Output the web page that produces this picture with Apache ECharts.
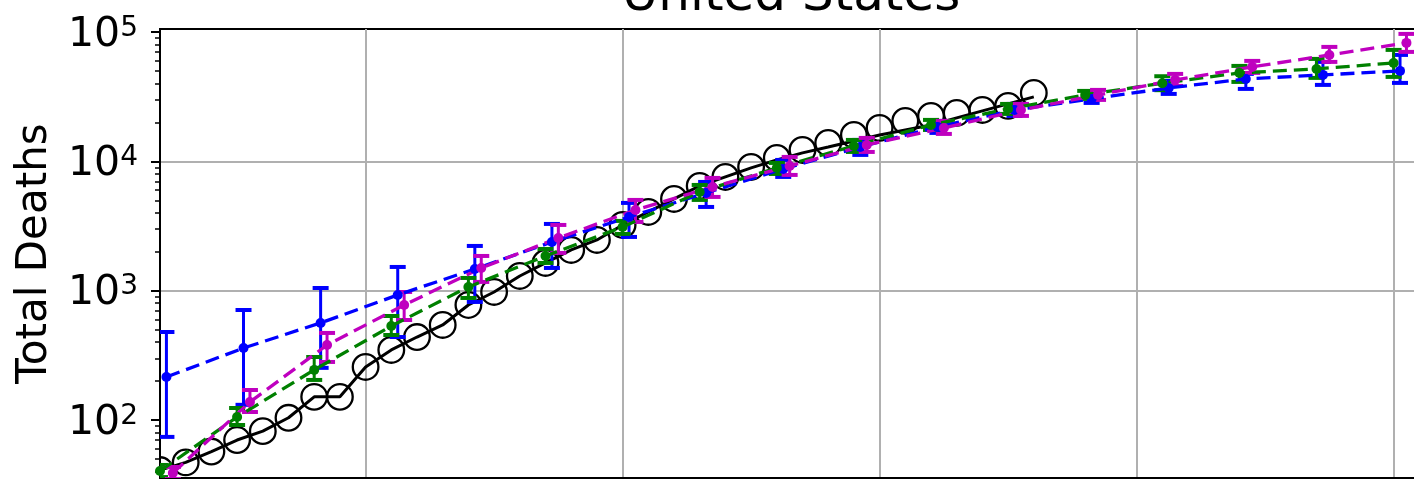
<!DOCTYPE html>
<html>
<head>
<meta charset="utf-8">
<script src="https://cdn.jsdelivr.net/npm/echarts@6/dist/echarts.min.js"></script>
<style>
  html, body { margin: 0; padding: 0; background: #ffffff; }
  #chart { width: 1414px; height: 479px; }
</style>
</head>
<body>
<div id="chart"></div>
<script>
// ---- Observed totals (one point per day) ----
const observedDays = [2, 3, 4, 5, 6, 7, 8, 9, 10, 11, 12, 13, 14, 15, 16, 17, 18, 19,
  20, 21, 22, 23, 24, 25, 26, 27, 28, 29, 30, 31, 32, 33, 34, 35, 36];
const observedDeaths = [41, 47, 57, 70, 82, 104, 151, 151, 257, 348, 438, 543, 775, 977,
  1299, 1638, 2064, 2467, 3222, 4061, 5120, 6451, 7573, 9050, 10625, 12250, 13880, 16000,
  18130, 20540, 22450, 23680, 24970, 26830, 33810];
const trendDeaths = [41, 47, 57, 70, 82, 104, 151, 151, 257, 348, 438, 543, 775, 977,
  1299, 1638, 2064, 2467, 3222, 4061, 5120, 6451, 7573, 8890, 10260, 11620, 12920, 14380,
  16000, 17490, 19110, 21660, 24550, 27800, 31500];

// ---- Model projections (every third day) with error ranges ----
const projectionDays = [2, 5, 8, 11, 14, 17, 20, 23, 26, 29, 32, 35, 38, 41, 44, 47, 50];

const blueMid  = [215, 360, 563, 926, 1471, 2380, 3715, 5696, 8735, 12920, 18460, 24970, 30380, 36960, 43380, 46590, 50030];
const blueLow  = [74, 131, 253, 438, 818, 1498, 2602, 4439, 7575, 11210, 16590, 22450, 28290, 33220, 36310, 38990, 40400];
const blueHigh = [479, 709, 1049, 1525, 2217, 3280, 4769, 6928, 10250, 14640, 20540, 27790, 32630, 41860, 47430, 58730, 66500];

const greenMid  = [40.3, 105.5, 244, 533, 1068, 1855, 3109, 5799, 8892, 13150, 19120, 25420, 32630, 40200, 48290, 51830, 57680];
const greenLow  = [36.2, 91.5, 204, 454, 878, 1638, 2745, 5030, 7988, 11820, 17490, 23260, 30380, 35500, 41120, 44170, 44960];
const greenHigh = [44.9, 123.8, 307, 637, 1254, 2101, 3461, 6568, 9721, 14640, 20910, 27790, 35040, 45500, 54680, 61940, 72710];

const magentaMid  = [38.9, 137.8, 380, 775, 1498, 2556, 4209, 6339, 9214, 13390, 18130, 24970, 32630, 42620, 53720, 66500, 82360];
const magentaLow  = [35.0, 115.3, 281, 593, 1168, 1957, 3399, 5305, 7849, 11820, 16290, 22450, 29850, 38300, 48290, 58730, 70170];
const magentaHigh = [43.3, 170.6, 471, 977, 1855, 3222, 5030, 7440, 10820, 15170, 20540, 27790, 35670, 47430, 59780, 76700, 96680];

// ---- Axis ticks ----
const yMajorTicks = [100, 1000, 10000, 100000];
const yTickExponents = ['2', '3', '4', '5'];
const yMinorTicks = [40, 50, 60, 70, 80, 90,
  200, 300, 400, 500, 600, 700, 800, 900,
  2000, 3000, 4000, 5000, 6000, 7000, 8000, 9000,
  20000, 30000, 40000, 50000, 60000, 70000, 80000, 90000];

const FONT = 'DejaVu Sans';
const BLUE = '#0000ff', GREEN = '#008000', MAGENTA = '#bf00bf';

const chart = echarts.init(document.getElementById('chart'), null, { renderer: 'canvas' });

function pairs(xs, ys, shift) {
  return xs.map((x, i) => [x + shift, ys[i]]);
}
function ranges(xs, lo, hi, shift) {
  return xs.map((x, i) => [x + shift, lo[i], hi[i]]);
}

// Open circle marker, clipped to the plotting area by the series
function openCircle(params, api) {
  const p = api.coord([api.value(0), api.value(1)]);
  return {
    type: 'circle',
    shape: { cx: p[0], cy: p[1], r: 12.8 },
    style: { fill: null, stroke: '#000', lineWidth: 2.3 }
  };
}

// Vertical error bar with flat caps
function errorBar(color) {
  return function (params, api) {
    const x = api.value(0);
    const pLo = api.coord([x, api.value(1)]);
    const pHi = api.coord([x, api.value(2)]);
    const half = 8;
    const bar = { stroke: color, lineWidth: 3, fill: null };
    const cap = { stroke: color, lineWidth: 4, fill: null };
    return {
      type: 'group',
      children: [
        { type: 'line', shape: { x1: pLo[0], y1: pLo[1], x2: pHi[0], y2: pHi[1] }, style: bar },
        { type: 'line', shape: { x1: pLo[0] - half, y1: pLo[1], x2: pLo[0] + half, y2: pLo[1] }, style: cap },
        { type: 'line', shape: { x1: pHi[0] - half, y1: pHi[1], x2: pHi[0] + half, y2: pHi[1] }, style: cap }
      ]
    };
  };
}

function modelSeries(name, color, mid, lo, hi, shift) {
  return [
    {
      name: name + ' range',
      type: 'custom',
      clip: true,
      renderItem: errorBar(color),
      encode: { x: 0, y: [1, 2] },
      data: ranges(projectionDays, lo, hi, shift),
      z: 3
    },
    {
      name: name,
      type: 'line',
      data: pairs(projectionDays, mid, shift),
      symbol: 'circle',
      symbolSize: 10,
      showSymbol: true,
      clip: true,
      itemStyle: { color: color },
      lineStyle: { color: color, width: 3.3, type: [14, 7] },
      z: 4
    }
  ];
}

const option = {
  animation: false,
  backgroundColor: '#ffffff',
  title: {
    text: 'United States',
    left: 791,
    top: -28,
    padding: 0,
    textAlign: 'center',
    textStyle: { fontFamily: FONT, fontSize: 50, fontWeight: 'normal', color: '#000' }
  },
  grid: {
    left: 160, top: 29, width: 1285, height: 449,
    outerBoundsMode: 'none',
    show: true, borderColor: '#000', borderWidth: 2, backgroundColor: 'transparent'
  },
  xAxis: {
    type: 'value',
    min: 2,
    max: 52,
    axisLine: { show: true, onZero: false, lineStyle: { color: '#000', width: 2 } },
    axisTick: { show: false },
    axisLabel: { show: false },
    splitLine: { show: true, showMinLine: false, showMaxLine: false, lineStyle: { color: '#b0b0b0', width: 2 } }
  },
  yAxis: [
    {
      type: 'log',
      min: 35.6,
      max: 105500,
      name: 'Total Deaths',
      nameLocation: 'middle',
      nameGap: 104,
      nameTextStyle: { fontFamily: FONT, fontSize: 42, color: '#000' },
      axisLine: { show: true, lineStyle: { color: '#000', width: 2 } },
      axisTick: { show: true, inside: false, length: 9, customValues: yMajorTicks, lineStyle: { color: '#000', width: 2 } },
      axisLabel: {
        show: true,
        margin: 22,
        padding: [6, 0, 0, 0],
        customValues: yMajorTicks,
        formatter: function (v) {
          const i = yMajorTicks.findIndex(t => Math.abs(t - v) / t < 1e-6);
          return i < 0 ? '' : '{b|10}{s|' + yTickExponents[i] + '}';
        },
        rich: {
          b: { fontFamily: FONT, fontSize: 41, color: '#000' },
          s: { fontFamily: FONT, fontSize: 28, color: '#000', verticalAlign: 'top' }
        }
      },
      splitLine: { show: true, showMinLine: false, showMaxLine: false, lineStyle: { color: '#b0b0b0', width: 2 } }
    },
    {
      type: 'log',
      min: 35.6,
      max: 105500,
      position: 'left',
      axisLine: { show: false },
      axisTick: { show: true, inside: false, length: 5, customValues: yMinorTicks, lineStyle: { color: '#000', width: 1.5 } },
      axisLabel: { show: false },
      splitLine: { show: false }
    }
  ],
  series: [
    {
      name: 'observed',
      type: 'custom',
      clip: true,
      renderItem: openCircle,
      encode: { x: 0, y: 1 },
      data: pairs(observedDays, observedDeaths, 0),
      z: 2
    },
    {
      name: 'trend',
      type: 'line',
      data: pairs(observedDays, trendDeaths, 0),
      showSymbol: false,
      symbol: 'none',
      clip: true,
      lineStyle: { color: '#000', width: 3 },
      z: 2
    },
    ...modelSeries('model A', BLUE, blueMid, blueLow, blueHigh, 0.25),
    ...modelSeries('model B', GREEN, greenMid, greenLow, greenHigh, 0),
    ...modelSeries('model C', MAGENTA, magentaMid, magentaLow, magentaHigh, 0.5)
  ]
};

chart.setOption(option);
</script>
</body>
</html>
